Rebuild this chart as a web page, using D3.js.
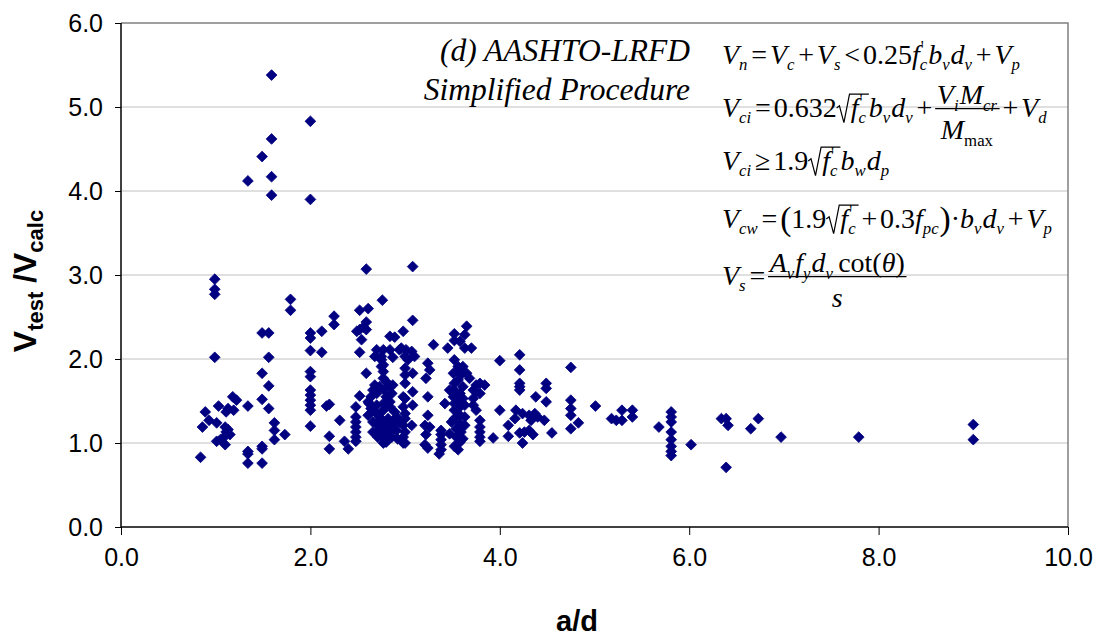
<!DOCTYPE html>
<html>
<head>
<meta charset="utf-8">
<script src="https://cdn.jsdelivr.net/npm/d3@7"></script>
<style>
  html, body { margin: 0; padding: 0; background: #fff; }
  svg { display: block; }
</style>
</head>
<body>
<svg id="chart" width="1103" height="637"></svg>
<script>
// ---------------- DATA ----------------
const xTicks = [0, 2, 4, 6, 8, 10];
const yTicks = [0, 1, 2, 3, 4, 5, 6];
const xTitle = "a/d";
const noteLines = ["(d) AASHTO-LRFD", "Simplified Procedure"];

// a/d values of each test
const aOverD = [
  0.84, 0.86, 0.89, 0.93, 0.99, 0.99, 0.99, 0.99, 1.01, 1.03, 1.01, 1.08, 1.10, 1.11, 1.15, 1.10, 1.11, 1.13, 1.18, 1.22, 1.19, 1.05, 1.13,
  1.34, 1.34, 1.34, 1.34, 1.34,
  1.49, 1.49, 1.49, 1.49, 1.49, 1.49, 1.49,
  1.56, 1.56, 1.56, 1.56,
  1.59, 1.59, 1.59, 1.59,
  1.62, 1.62, 1.62, 1.73, 1.79, 1.79,
  2.00, 2.00, 2.00, 2.00, 2.00, 2.00, 2.00, 2.00, 2.00, 2.00, 2.00, 2.00, 2.00,
  2.12, 2.12, 2.17, 2.20, 2.20, 2.20, 2.25, 2.25, 2.31, 2.36, 2.40,
  2.48, 2.48, 2.48, 2.48, 2.48, 2.48, 2.48,
  2.52, 2.61, 2.59, 2.49, 2.52, 2.56, 2.59, 2.54, 2.52, 2.59, 2.59, 2.52, 2.61, 2.61, 2.62, 2.66,
  2.64, 2.64, 2.68, 2.70, 2.70, 2.70, 2.70, 2.70, 2.71, 2.73, 2.75, 2.75, 2.68, 2.70, 2.75, 2.77, 2.76, 2.75,
  2.77, 2.77, 2.77, 2.78, 2.77, 2.77, 2.78, 2.77, 2.80, 2.80, 2.77,
  2.84, 2.89, 2.84, 2.87, 2.84, 2.87, 2.86, 2.84, 2.84, 2.89, 2.82, 2.87, 2.84, 2.86,
  2.73, 2.80, 2.75, 2.82, 2.88, 2.80, 2.73, 2.91, 2.66, 2.66,
  2.94, 2.98, 2.96, 3.01, 3.00, 3.03, 2.94, 2.91, 2.92, 2.98, 2.98, 2.98, 3.00, 3.00, 3.00, 3.00, 3.00, 3.00, 2.98, 3.00, 2.98, 3.00,
  3.08, 3.08, 3.07, 3.10, 3.08, 3.08, 3.08, 3.07,
  3.30, 3.24, 3.26, 3.22, 3.24, 3.24, 3.21, 3.26, 3.22, 3.21, 3.24,
  3.38, 3.38, 3.38, 3.38, 3.38, 3.36,
  3.45, 3.42,
  3.52, 3.52, 3.58, 3.63, 3.65, 3.63, 3.52, 3.51, 3.56, 3.59, 3.65, 3.56, 3.52, 3.52, 3.58, 3.51, 3.56, 3.61, 3.52, 3.58, 3.63,
  3.52, 3.58, 3.63, 3.52, 3.58, 3.63, 3.54, 3.59, 3.54, 3.58, 3.52, 3.56, 3.56, 3.61, 3.47, 3.61, 3.49, 3.47, 3.61,
  3.70, 3.68, 3.72, 3.72, 3.72, 3.75, 3.84, 3.75, 3.75, 3.79, 3.79,
  3.79, 3.79, 3.79, 3.79, 3.79, 3.93, 4.00, 4.00, 4.09, 4.09,
  4.21, 4.21, 4.21, 4.21, 4.21, 4.17, 4.16, 4.24, 4.21, 4.26, 4.24,
  4.31, 4.35, 4.31, 4.37, 4.40, 4.33, 4.38,
  4.49, 4.49, 4.49, 4.47, 4.55,
  4.75, 4.75, 4.75, 4.75, 4.83, 4.75,
  5.01, 5.18, 5.23, 5.29, 5.29, 5.40, 5.40, 5.68,
  5.81, 5.81, 5.81, 5.81, 5.81, 5.81, 5.81, 5.81,
  6.02, 6.34, 6.39, 6.41, 6.39, 6.65, 6.73, 6.97, 7.79, 9.00, 9.00
];
// V_test / V_calc of each test (same order)
const vRatio = [
  0.83, 1.19, 1.37, 1.27, 2.95, 2.83, 2.77, 2.02, 1.24, 1.44, 1.02, 1.06, 1.19, 1.13, 1.10, 0.98, 1.37, 1.41, 1.55, 1.51, 1.39, 1.04, 1.16,
  4.12, 1.44, 0.90, 0.87, 0.76,
  4.41, 2.31, 1.83, 1.52, 0.96, 0.93, 0.76,
  2.31, 2.02, 1.68, 1.41,
  5.38, 4.62, 4.17, 3.95,
  1.24, 1.15, 1.04, 1.10, 2.71, 2.58,
  4.83, 3.90, 2.31, 2.25, 2.10, 1.85, 1.79, 1.63, 1.57, 1.51, 1.45, 1.39, 1.20,
  2.33, 2.08, 1.44, 1.46, 1.08, 0.93, 2.51, 2.41, 1.27, 1.02, 0.93,
  1.43, 1.31, 1.25, 1.19, 1.13, 1.07, 1.02,
  2.58, 2.60, 2.44, 2.33, 2.35, 2.38, 2.35, 2.23, 2.08, 3.07, 1.83, 1.56, 1.49, 1.33, 1.47, 1.63,
  1.55, 1.41, 1.69, 1.59, 1.45, 1.35, 1.23, 1.13, 1.07, 1.67, 1.99, 1.91, 2.03, 2.11, 2.03, 2.11, 2.70, 1.27,
  1.93, 1.85, 1.77, 1.63, 1.39, 1.15, 1.05, 1.00, 1.73, 1.55, 1.47,
  2.27, 2.26, 2.11, 2.02, 1.67, 1.69, 1.59, 1.49, 1.43, 1.37, 1.29, 1.23, 1.13, 1.07,
  1.19, 1.21, 1.09, 1.11, 1.17, 1.01, 1.31, 1.31, 1.13, 1.25,
  2.11, 2.33, 2.13, 2.11, 2.03, 1.99, 1.25, 1.15, 1.05, 1.00, 1.55, 1.43, 1.89, 1.81, 1.71, 1.53, 1.35, 1.29, 1.21, 1.13, 1.07, 1.00,
  3.10, 2.46, 2.09, 2.03, 1.83, 1.61, 1.45, 1.21,
  2.17, 1.95, 1.87, 1.77, 1.55, 1.33, 1.21, 1.19, 1.10, 0.98, 0.94,
  1.15, 1.10, 1.04, 0.98, 0.92, 0.87,
  2.13, 1.47,
  2.22, 2.30, 2.21, 2.29, 2.39, 2.13, 1.99, 1.83, 1.87, 1.81, 1.83, 1.75, 1.71, 1.63, 1.59, 1.55, 1.51, 1.53, 1.47, 1.43, 1.45,
  1.39, 1.33, 1.31, 1.29, 1.23, 1.21, 1.17, 1.13, 1.07, 1.01, 0.96, 0.92, 1.91, 1.91, 1.63, 1.67, 1.25, 1.11, 1.05,
  2.13, 1.77, 1.63, 1.53, 1.45, 1.69, 1.69, 1.61, 1.39, 1.71, 1.59,
  1.27, 1.19, 1.13, 1.07, 1.02, 1.06, 1.98, 1.39, 1.21, 1.08,
  2.05, 1.87, 1.71, 1.67, 1.63, 1.39, 1.29, 1.35, 1.12, 1.13, 1.00,
  1.15, 1.10, 1.33, 1.35, 1.31, 1.27, 1.55,
  1.71, 1.65, 1.49, 1.27, 1.12,
  1.90, 1.51, 1.41, 1.33, 1.24, 1.17,
  1.44, 1.29, 1.27, 1.39, 1.27, 1.39, 1.31, 1.19,
  1.37, 1.31, 1.25, 1.13, 1.04, 0.96, 0.90, 0.85,
  0.98, 1.29, 1.29, 1.21, 0.71, 1.17, 1.29, 1.07, 1.07, 1.22, 1.04
];

// ---------------- CHART ----------------
const svg = d3.select("#chart");
const W = 1103, H = 637;
const plot = { left: 121, right: 1068, top: 23, bottom: 527 };

svg.append("rect").attr("width", W).attr("height", H).attr("fill", "#fff");

const x = d3.scaleLinear().domain([0, 10]).range([plot.left, plot.right]);
const y = d3.scaleLinear().domain([0, 6]).range([plot.bottom, plot.top]);

// gridlines
svg.append("g").selectAll("line").data(yTicks.filter(d => d > 0 && d < 6)).join("line")
  .attr("x1", plot.left).attr("x2", plot.right)
  .attr("y1", d => y(d)).attr("y2", d => y(d))
  .attr("stroke", "#c0c0c0").attr("stroke-width", 1);

// plot border (top & right)
svg.append("path")
  .attr("d", `M${plot.left},${y(6)}H${x(10)}V${y(0)}`)
  .attr("fill", "none").attr("stroke", "#808080").attr("stroke-width", 1.5);

const tickFont = "'Liberation Sans', Arial, sans-serif";

// axes
const xAxis = d3.axisBottom(x).tickValues(xTicks).tickFormat(d3.format(".1f")).tickSize(8).tickPadding(13);
const yAxis = d3.axisLeft(y).tickValues(yTicks).tickFormat(d3.format(".1f")).tickSize(6).tickPadding(12);

const gx = svg.append("g").attr("transform", `translate(0,${plot.bottom})`).call(xAxis);
const gy = svg.append("g").attr("transform", `translate(${plot.left},0)`).call(yAxis);
[gx, gy].forEach(g => {
  g.select(".domain").attr("stroke", "#000").attr("stroke-width", 1.5);
  g.selectAll(".tick line").attr("stroke", "#000").attr("stroke-width", 1);
  g.selectAll(".tick text").attr("font-family", tickFont).attr("font-size", 25).attr("fill", "#000");
});
gy.select(".domain").attr("d", `M0,${y(6)}V${y(0)}`);
gx.select(".domain").attr("d", `M${x(0)},0H${x(10)}`);

// points (square diamonds)
const diamond = {
  draw(ctx, size) {
    const r = Math.sqrt(size / 2);
    ctx.moveTo(0, -r); ctx.lineTo(r, 0); ctx.lineTo(0, r); ctx.lineTo(-r, 0); ctx.closePath();
  }
};
const pts = aOverD.map((d, i) => ({ ad: d, v: vRatio[i] }));
svg.append("g").selectAll("path").data(pts).join("path")
  .attr("transform", d => `translate(${x(d.ad)},${y(d.v)})`)
  .attr("d", d3.symbol().type(diamond).size(58))
  .attr("fill", "#000080")
  .attr("stroke", "#000080").attr("stroke-width", 0.8);

// axis titles
svg.append("text")
  .attr("x", 577).attr("y", 631)
  .attr("text-anchor", "middle")
  .attr("font-family", tickFont).attr("font-weight", "bold").attr("font-size", 29)
  .text(xTitle);

const yt = svg.append("text")
  .attr("transform", "translate(36,281) rotate(-90)")
  .attr("text-anchor", "middle")
  .attr("font-family", tickFont).attr("font-weight", "bold").attr("font-size", 32);
yt.append("tspan").text("V");
yt.append("tspan").attr("font-size", 22).attr("dy", 7).text("test");
yt.append("tspan").attr("dy", -7).text(" /V");
yt.append("tspan").attr("font-size", 22).attr("dy", 7).text("calc");

// note text
const serif = "'Liberation Serif', 'Times New Roman', serif";
svg.selectAll(".note").data(noteLines).join("text")
  .attr("class", "note")
  .attr("x", 690).attr("y", (d, i) => 61 + i * 39)
  .attr("text-anchor", "end")
  .attr("font-family", serif).attr("font-style", "italic").attr("font-size", 31.5)
  .text(d => d);

// ---------------- FORMULAS (mini typesetter) ----------------
const FS = 28;
const I = t => ({ t, i: true });
const R = t => ({ t });
const S = (t, sp) => ({ t, i: true, sub: true, sp });
const SR = t => ({ t, sub: true });
const OP = t => ({ t, op: true });
const BIG = t => ({ t, big: true });

function typeset(parent, items, x0, y0, size) {
  let cx = x0;
  for (const it of items) {
    if (it.frac) {
      const gN = parent.append("g"), gD = parent.append("g");
      const wn = typeset(gN, it.frac[0], 0, 0, size);
      const wd = typeset(gD, it.frac[1], 0, 0, size);
      const w = Math.max(wn, wd) + size * 0.12;
      gN.attr("transform", `translate(${cx + (w - wn) / 2},${y0 - size * 0.45})`);
      gD.attr("transform", `translate(${cx + (w - wd) / 2},${y0 + size * 0.8})`);
      parent.append("line").attr("x1", cx).attr("x2", cx + w)
        .attr("y1", y0 - size * 0.3).attr("y2", y0 - size * 0.3)
        .attr("stroke", "#000").attr("stroke-width", 1.2);
      cx += w;
    } else if (it.sqrt) {
      const rw = size * 0.5;
      const wi = typeset(parent, it.sqrt, cx + rw, y0, size);
      parent.append("path")
        .attr("d", `M${cx},${y0 - size * 0.32}L${cx + size * 0.1},${y0 - size * 0.4}L${cx + size * 0.26},${y0 + size * 0.2}L${cx + size * 0.46},${y0 - size * 0.82}H${cx + rw + wi + 2}`)
        .attr("fill", "none").attr("stroke", "#000").attr("stroke-width", 1.2);
      cx += rw + wi + 2;
    } else if (it.gap) {
      cx += it.gap * size;
    } else {
      const small = it.sub || it.sup;
      const fs = small ? size * 0.6 : it.big ? size * 1.2 : size;
      const dy = it.sub ? size * 0.22 : it.sup ? -size * 0.4 : it.big ? size * 0.07 : 0;
      if (it.op) cx += size * 0.1;
      const t = parent.append("text")
        .attr("x", cx).attr("y", y0 + dy)
        .attr("font-family", serif).attr("font-size", fs)
        .attr("font-style", it.i ? "italic" : "normal")
        .text(it.t);
      let w = t.node().getComputedTextLength();
      if (it.sp) {
        const t2 = parent.append("text")
          .attr("x", cx + 1).attr("y", y0 - size * 0.42)
          .attr("font-family", serif).attr("font-size", size * 0.6)
          .text(it.sp);
        w = Math.max(w, t2.node().getComputedTextLength() + 1);
      }
      if (it.sub) w += 1;
      cx += w;
      if (it.op) cx += size * 0.1;
    }
  }
  return cx - x0;
}

const fc = [I("f"), S("c", "'")];
const formulas = [
  { y: 64, items: [I("V"), S("n"), OP("="), I("V"), S("c"), OP("+"), I("V"), S("s"), OP("<"), R("0.25"), ...fc, I("b"), S("v"), I("d"), S("v"), OP("+"), I("V"), S("p")] },
  { y: 117, items: [I("V"), S("ci"), OP("="), R("0.632"), { sqrt: fc }, I("b"), S("v"), I("d"), S("v"), OP("+"),
      { frac: [[I("V"), S("i"), I("M"), S("cr")], [I("M"), SR("max")]] }, OP("+"), I("V"), S("d")] },
  { y: 170, items: [I("V"), S("ci"), OP("≥"), R("1.9"), { sqrt: fc }, I("b"), S("w"), I("d"), S("p")] },
  { y: 228, items: [I("V"), S("cw"), OP("="), BIG("("), R("1.9"), { sqrt: fc }, OP("+"), R("0.3"), I("f"), S("pc"), BIG(")"), R("·"), I("b"), S("v"), I("d"), S("v"), OP("+"), I("V"), S("p")] },
  { y: 285, items: [I("V"), S("s"), OP("="), { frac: [[I("A"), S("v"), I("f"), S("y"), I("d"), S("v"), { gap: 0.15 }, R("cot"), R("("), I("θ"), R(")")], [I("s")]] }] }
];
const fg = svg.append("g").attr("fill", "#000");
formulas.forEach(f => typeset(fg.append("g"), f.items, 722, f.y, FS));
</script>
</body>
</html>
